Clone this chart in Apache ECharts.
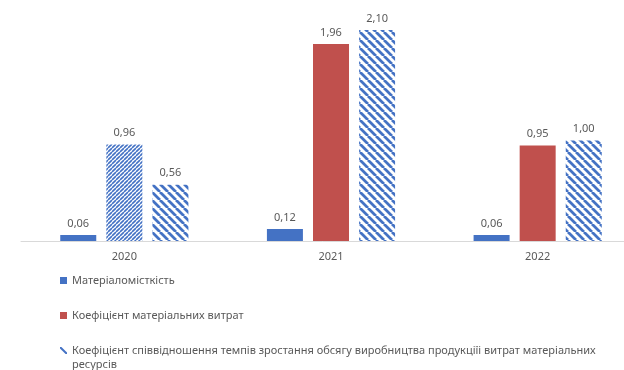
<!DOCTYPE html>
<html><head><meta charset="utf-8">
<script src="https://cdn.jsdelivr.net/npm/echarts@6/dist/echarts.min.js"></script>
<style>html,body{margin:0;padding:0;background:#fff}#c{width:624px;height:370px}</style>
</head><body><div id="c"></div>
<script>
const categories = ['2020', '2021', '2022'];
const seriesNames = ['Матеріаломісткість', 'Коефіцієнт матеріальних витрат', 'Коефіцієнт співвідношення темпів зростання обсягу виробництва продукціїі витрат матеріальних ресурсів'];
const materialIntensity = [0.06, 0.12, 0.06];
const materialCostCoef = [0.96, 1.96, 0.95];
const growthRatioCoef = [0.56, 2.10, 1.00];

function hatch(size, lw, color, dir) {
  const c = document.createElement('canvas');
  c.width = size; c.height = size;
  const g = c.getContext('2d');
  g.fillStyle = '#fff'; g.fillRect(0, 0, size, size);
  g.strokeStyle = color; g.lineWidth = lw;
  g.beginPath();
  if (dir === 'back') {
    for (let k = -1; k <= 1; k++) { g.moveTo(k * size, 0); g.lineTo(k * size + size, size); }
  } else {
    for (let k = -1; k <= 1; k++) { g.moveTo(k * size, size); g.lineTo(k * size + size, 0); }
  }
  g.stroke();
  return c;
}
const BLUE = '#4472c4', RED = '#c0504d', TXT = '#595959';
const backPat = { image: hatch(8, 2.8, BLUE, 'back'), repeat: 'repeat' };
const fwdPat = { image: hatch(4, 1.6, BLUE, 'fwd'), repeat: 'repeat' };

const fmt = p => p.value.toFixed(2).replace('.', ',');
const lbl = { show: true, position: 'top', distance: 6, color: TXT, fontSize: 11, fontFamily: 'Noto Sans', formatter: fmt };

const chart = echarts.init(document.getElementById('c'), null, { renderer: 'canvas' });
chart.setOption({
  animation: false,
  textStyle: { fontFamily: 'Noto Sans' },
  grid: { left: 21, top: 30, width: 620, bottom: 129, containLabel: false, outerBoundsMode: 'none' },
  xAxis: {
    type: 'category', data: categories,
    axisLine: { lineStyle: { color: '#d9d9d9' } }, axisTick: { show: false },
    axisLabel: { color: TXT, fontSize: 11, margin: 10 }
  },
  yAxis: { type: 'value', min: 0, max: 2.1, show: false, splitLine: { show: false } },
  legend: {
    orient: 'vertical', left: 55, top: 270, itemGap: 24, itemWidth: 7, itemHeight: 7,
    textStyle: { color: TXT, fontSize: 11, fontFamily: 'Noto Sans' },
    formatter: n => n === seriesNames[2] ? 'Коефіцієнт співвідношення темпів зростання обсягу виробництва продукціїі витрат матеріальних' : n,
    data: [
      { name: seriesNames[0], icon: 'rect', itemStyle: { color: BLUE } },
      { name: seriesNames[1], icon: 'rect', itemStyle: { color: RED } },
      { name: seriesNames[2], icon: 'path://M0,0 L2,0 L10,8 L10,10 L8,10 L0,2 Z', itemStyle: { color: BLUE } }
    ]
  },
  graphic: [{ type: 'text', left: 72, top: 359, style: { text: 'ресурсів', fill: TXT, fontSize: 11, fontFamily: 'Noto Sans' } }],
  series: [
    { name: seriesNames[0], type: 'bar', data: materialIntensity, barWidth: 36, barGap: '28%', itemStyle: { color: BLUE }, label: lbl },
    { name: seriesNames[1], type: 'bar', data: materialCostCoef.map((v, i) => i === 0 ? { value: v, itemStyle: { color: fwdPat } } : v), barWidth: 36, barGap: '28%', itemStyle: { color: RED }, label: lbl },
    { name: seriesNames[2], type: 'bar', data: growthRatioCoef, barWidth: 36, barGap: '28%', itemStyle: { color: backPat }, label: lbl }
  ]
});
</script></body></html>
